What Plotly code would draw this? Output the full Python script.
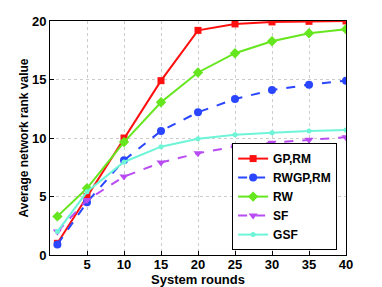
import plotly.graph_objects as go

rounds = [1, 5, 10, 15, 20, 25, 30, 35, 40]
gp_rm = [1.0, 5.0, 10.0, 14.9, 19.2, 19.75, 19.92, 19.97, 20.0]
rwgp_rm = [0.9, 4.5, 8.1, 10.6, 12.2, 13.33, 14.1, 14.56, 14.9]
rw = [3.3, 5.7, 9.65, 13.05, 15.6, 17.25, 18.27, 18.95, 19.3]
sf = [2.0, 4.7, 6.7, 7.9, 8.7, 9.27, 9.6, 9.85, 10.07]
gsf = [2.0, 5.4, 7.95, 9.26, 9.94, 10.28, 10.45, 10.6, 10.68]

series = [
    ("GP,RM", gp_rm, "#ff1010", "solid", "square", 7),
    ("RWGP,RM", rwgp_rm, "#2a46ff", "dash", "circle", 8),
    ("RW", rw, "#66e61e", "solid", "diamond", 8),
    ("SF", sf, "#b84cf2", "dash", "triangle-down", 8),
    ("GSF", gsf, "#6ef5d8", "solid", "circle", 5),
]

fig = go.Figure()
for name, vals, color, dash, sym, size in series:
    fig.add_trace(go.Scatter(
        x=rounds, y=vals, name=name, mode="lines+markers",
        line=dict(color=color, width=2, dash=dash),
        marker=dict(symbol=sym, size=size, color=color),
    ))

font_family = "Liberation Sans, Arial, sans-serif"
# page body adds an 8px offset, so the figure is sized to the visible area
fig.update_layout(
    width=374, height=279,
    margin=dict(l=42, r=36, t=13, b=32, autoexpand=False),
    paper_bgcolor="white", plot_bgcolor="white",
    font=dict(family=font_family, color="black", size=12),
    showlegend=True,
    legend=dict(
        x=0.97, y=0.021, xanchor="right", yanchor="bottom",
        bgcolor="white", bordercolor="black", borderwidth=1,
        font=dict(size=12, weight="bold"),
        tracegroupgap=0, itemwidth=30,
    ),
)
fig.update_xaxes(
    range=[0, 40], tickvals=[5, 10, 15, 20, 25, 30, 35, 40],
    showgrid=True, gridcolor="#cccccc", griddash="dot", gridwidth=1,
    showline=True, linecolor="black", linewidth=1, mirror=True,
    ticks="inside", ticklen=4, tickcolor="black",
    tickfont=dict(size=13, weight="bold"), ticklabelstandoff=-3,
    title=dict(text="System rounds", font=dict(size=13, weight="bold"), standoff=0),
    zeroline=False, automargin=False,
)
fig.update_yaxes(
    range=[0, 20], tickvals=[0, 5, 10, 15, 20],
    showgrid=True, gridcolor="#cccccc", griddash="dot", gridwidth=1,
    showline=True, linecolor="black", linewidth=1, mirror=True,
    ticks="inside", ticklen=4, tickcolor="black",
    tickfont=dict(size=13, weight="bold"),
    title=dict(text="Average network rank value", font=dict(size=12, weight="bold"), standoff=0),
    zeroline=False, automargin=False,
)

fig.write_html("out.html")
